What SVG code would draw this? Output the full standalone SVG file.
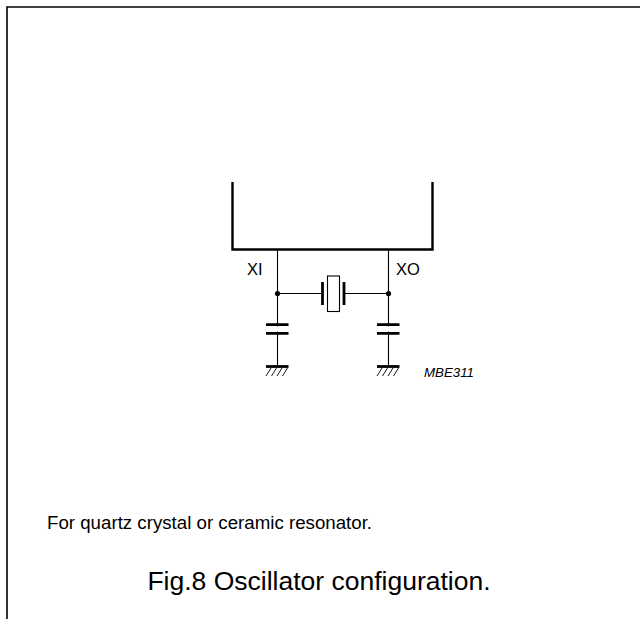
<svg xmlns="http://www.w3.org/2000/svg" width="640" height="619" viewBox="0 0 640 619">
<style>
.frame{fill:none;stroke:#000;stroke-width:1.6}
.thick{fill:none;stroke:#000;stroke-width:2.4}
.wire{fill:none;stroke:#000;stroke-width:1.1}
.plate{fill:none;stroke:#000;stroke-width:2.8}
.hatch{fill:none;stroke:#000;stroke-width:0.9}
.t{font-family:"Liberation Sans",Arial,sans-serif;fill:#000}
</style>
<rect width="640" height="619" fill="#fff"/>
<path class="frame" d="M7,619 V7 H640"/>
<g id="ic">
<path class="thick" d="M232.5,182 V249.5 H432.5 V182"/>
</g>
<g id="connectors">
<path class="wire" d="M277.5,249.5 V366 M388.5,249.5 V366 M277.5,293.5 H322 M345 293.5 H388.5"/>
</g>
<g id="junctions">
<circle cx="277.5" cy="293.5" r="2.6"/>
<circle cx="388.5" cy="293.5" r="2.6"/>
</g>
<g id="crystal">
<path class="plate" d="M322.5,282 V305 M344,282 V305"/>
<rect x="327.5" y="276" width="12" height="35.5" fill="#fff" stroke="#000" stroke-width="1.1"/>
</g>
<g id="cap1">
<path class="plate" d="M266,324.7 H288.5 M266,333.3 H288.5"/>
<rect x="270" y="326.5" width="15" height="5" fill="#fff"/>
</g>
<g id="cap2">
<path class="plate" d="M377,324.7 H399.5 M377,333.3 H399.5"/>
<rect x="381" y="326.5" width="15" height="5" fill="#fff"/>
</g>
<g id="gnd1">
<path class="plate" d="M266,366.5 H288.5"/>
<path class="hatch" d="M266,376 L271,368 M271.5,376 L276.5,368 M277,376 L282,368 M282.5,376 L287.5,368"/>
</g>
<g id="gnd2">
<path class="plate" d="M377,366.5 H399.5"/>
<path class="hatch" d="M377,376 L382,368 M382.5,376 L387.5,368 M388,376 L393,368 M393.5,376 L398.5,368"/>
</g>
<text class="t" x="247" y="275" font-size="16.5">XI</text>
<text class="t" x="396" y="275" font-size="16.5">XO</text>
<text class="t" x="424" y="377" font-size="13.3" font-style="italic">MBE311</text>
<text class="t" x="47" y="529" font-size="18.7">For quartz crystal or ceramic resonator.</text>
<text class="t" x="319" y="590" font-size="26.5" text-anchor="middle">Fig.8  Oscillator configuration.</text>
</svg>
